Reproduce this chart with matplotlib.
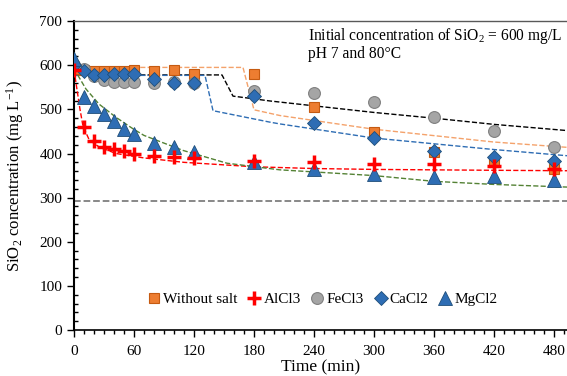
import numpy as np
import matplotlib
matplotlib.use("Agg")
import matplotlib.pyplot as plt
from matplotlib.ticker import MultipleLocator

plt.rcParams['font.family'] = ['Liberation Serif', 'DejaVu Serif']
plt.rcParams['mathtext.fontset'] = 'custom'
plt.rcParams['mathtext.rm'] = 'Liberation Serif'
plt.rcParams['mathtext.it'] = 'Liberation Serif:italic'

# measured data (time in min, SiO2 in mg/L)
time = [0, 10, 20, 30, 40, 50, 60, 80, 100, 120, 180, 240, 300, 360, 420, 480]
without_salt = [591, 590, 588, 588, 588, 588, 590, 587, 590, 579, 579, 506, 449, 403, 380, 365]
alcl3 = [590, 459, 428, 415, 410, 406, 400, 395, 391, 390, 384, 380, 377, 377, 371, 365]
fecl3 = [600, 592, 575, 566, 563, 563, 562, 559, 561, 560, 541, 538, 517, 482, 452, 414]
cacl2 = [600, 588, 578, 578, 580, 580, 579, 568, 560, 559, 531, 470, 436, 405, 392, 384]
mgcl2 = [614, 527, 508, 490, 473, 456, 444, 423, 414, 403, 380, 366, 354, 347, 348, 340]

# model curves
fit_without_t = [0, 169, 180, 206, 300, 420, 493]
fit_without_v = [595, 595, 499, 486, 455, 426, 414]
fit_al_t = [0, 2, 4, 6, 9, 15, 25, 42, 70, 110, 180, 240, 300, 360, 420, 493]
fit_al_v = [590, 560, 530, 500, 462, 432, 415, 400, 390, 380, 370, 366, 364, 363, 362, 361]
fit_fe_t = [0, 148, 159, 196, 300, 360, 420, 493]
fit_fe_v = [578, 578, 530, 519, 493, 480, 466, 452]
fit_ca_t = [0, 131, 139, 196, 206, 300, 420, 493]
fit_ca_v = [577, 577, 497, 471, 467, 435, 409, 395]
fit_mg_t = [0, 12, 25, 42, 59, 70, 109, 153, 206, 300, 360, 420, 493]
fit_mg_v = [592, 546, 512, 482, 456, 441, 407, 378, 363, 350, 337, 330, 324]

reference_level = 292

fig = plt.figure(figsize=(5.67, 3.76), dpi=100)
ax = fig.add_axes([0.1305, 0.122, 0.8695, 0.822])

ax.axhline(reference_level, color='#7f7f7f', ls='--', lw=1.3, zorder=1)

ax.plot(fit_without_t, fit_without_v, ls='--', color='#f4a26b', lw=1.0, zorder=2)
ax.plot(fit_al_t, fit_al_v, ls='--', color='#ff0000', lw=1.0, zorder=2)
ax.plot(fit_fe_t, fit_fe_v, ls='--', color='black', lw=1.0, zorder=2)
ax.plot(fit_ca_t, fit_ca_v, ls='--', color='#2e6db4', lw=1.0, zorder=2)
ax.plot(fit_mg_t, fit_mg_v, ls='--', color='#548235', lw=1.0, zorder=2)

h1, = ax.plot(time, without_salt, 's', color='#ed7d31', mec='#c55a11', ms=7, mew=0.8,
              zorder=3, label='Without salt')
h3, = ax.plot(time, fecl3, 'o', color='#a5a5a5', mec='#7f7f7f', ms=8.5, mew=0.8,
              zorder=4, label='FeCl3')
h4, = ax.plot(time, cacl2, 'D', color='#2e6db4', mec='#1f4e79', ms=7.5, mew=0.6,
              zorder=5, label='CaCl2')
h5, = ax.plot(time, mgcl2, '^', color='#2e6db4', mec='#1f4e79', ms=9.5, mew=0.6,
              zorder=6, label='MgCl2')
h2, = ax.plot(time, alcl3, '+', color='#ff0000', ms=10, mew=2.5, zorder=7, label='AlCl3')

ax.set_xlim(0, 493)
ax.set_ylim(0, 700)
ax.xaxis.set_major_locator(MultipleLocator(60))
ax.xaxis.set_minor_locator(MultipleLocator(10))
ax.yaxis.set_major_locator(MultipleLocator(100))
ax.yaxis.set_minor_locator(MultipleLocator(20))
ax.tick_params(which='both', labelsize=11, color='black', width=1)
ax.tick_params(axis='x', which='major', direction='out', length=5, pad=6)
ax.tick_params(axis='x', which='minor', direction='out', length=3)
ax.tick_params(axis='y', which='major', direction='out', length=5)
ax.tick_params(axis='y', which='minor', direction='in', length=3)

ax.spines['right'].set_visible(False)
ax.spines['top'].set_color('#595959')
ax.spines['top'].set_linewidth(1.0)
ax.spines['left'].set_linewidth(1.5)
ax.spines['bottom'].set_linewidth(1.2)

ax.set_xlabel('Time (min)', fontsize=12.5, labelpad=1)
ax.set_ylabel('SiO$_2$ concentration (mg L$^{-1}$)', fontsize=12)
ax.yaxis.set_label_coords(-0.098, 0.5)

ax.text(0.475, 0.985, 'Initial concentration of SiO$_2$ = 600 mg/L\npH 7 and 80\u00b0C',
        transform=ax.transAxes, ha='left', va='top', fontsize=11.2, linespacing=1.05)

ax.legend(handles=[h1, h2, h3, h4, h5], loc='center', bbox_to_anchor=(0.503, 0.1),
          ncol=5, frameon=False, fontsize=11, handletextpad=0.1, columnspacing=0.6,
          handlelength=1.0, borderaxespad=0)

fig.savefig('out.png', dpi=100)
